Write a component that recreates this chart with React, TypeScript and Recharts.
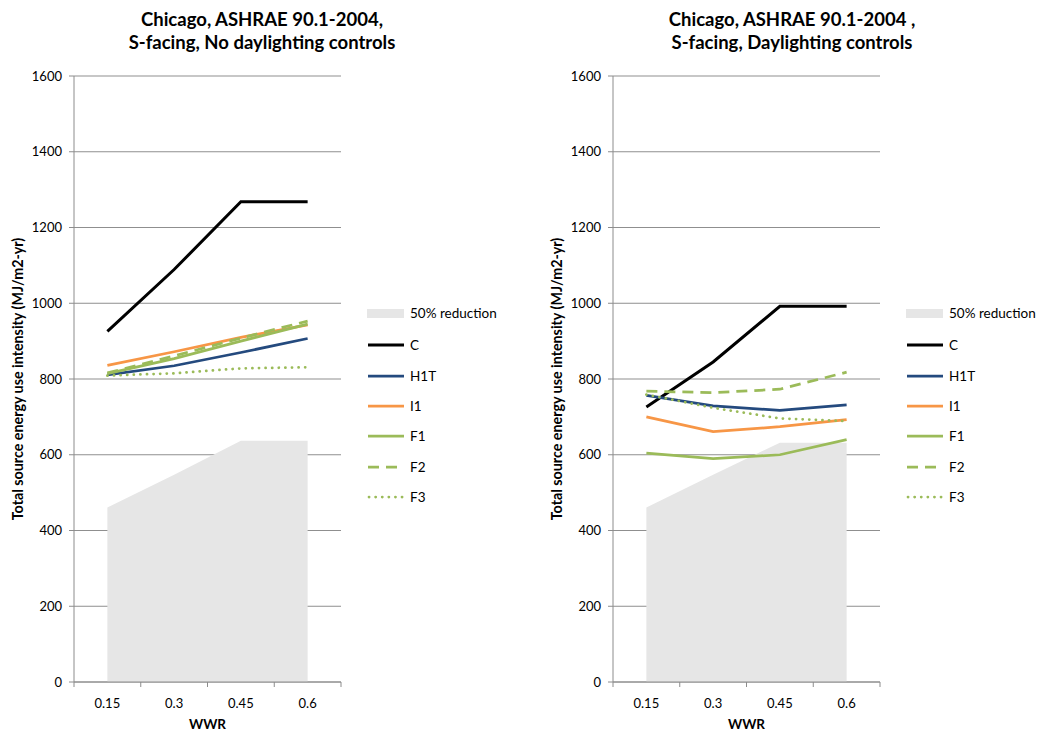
import { Area, CartesianGrid, ComposedChart, Legend, Line, XAxis, YAxis } from 'recharts'

const FONT = 'Lato, "Open Sans", sans-serif'

// window-to-wall ratios (categories)
const WWR = [0.15, 0.3, 0.45, 0.6]
const Y_TICKS = [0, 200, 400, 600, 800, 1000, 1200, 1400, 1600]

// left panel: no daylighting controls
const AREA_NO_DL = [461, 547, 637, 637]
const C_NO_DL = [926, 1089, 1268, 1268]
const H1T_NO_DL = [811, 835, 870, 907]
const I1_NO_DL = [836, 872, 910, 943]
const F1_NO_DL = [814, 854, 900, 945]
const F2_NO_DL = [816, 861, 908, 953]
const F3_NO_DL = [809, 815, 828, 831]

// right panel: daylighting controls
const AREA_DL = [461, 547, 632, 632]
const C_DL = [726, 845, 992, 992]
const H1T_DL = [757, 729, 717, 732]
const I1_DL = [700, 661, 674, 693]
const F1_DL = [604, 590, 600, 640]
const F2_DL = [768, 764, 773, 818]
const F3_DL = [759, 724, 696, 689]

const SERIES = [
  { key: 'C', color: '#000000', width: 3, dash: undefined as string | undefined },
  { key: 'H1T', color: '#244a7e', width: 2.75, dash: undefined },
  { key: 'I1', color: '#f79646', width: 2.75, dash: undefined },
  { key: 'F1', color: '#9bbb59', width: 2.75, dash: undefined },
  { key: 'F2', color: '#9bbb59', width: 2.75, dash: '11 7' },
  { key: 'F3', color: '#9bbb59', width: 2.75, dash: '0.1 6.5' },
]

const STEP = WWR[1] - WWR[0]
const BOUNDS = [WWR[0] - STEP / 2, ...WWR.map((v) => v + STEP / 2)]
const X_TICKS = [...BOUNDS, ...WWR].sort((a, b) => a - b)

function buildRows(area: number[], lines: Record<string, number[]>) {
  return WWR.map((x, i) => {
    const row: Record<string, number> = { x, area: area[i] }
    for (const k of Object.keys(lines)) row[k] = lines[k][i]
    return row
  })
}

const isDotted = (dash?: string) => !!dash && dash.startsWith('0.1')

const XTick = (props: any) => {
  const { x, y, payload } = props
  const v = payload.value
  if (WWR.includes(v)) {
    return (
      <text x={x} y={y + 21} textAnchor="middle" fontSize={13} fontFamily={FONT} fill="#000">
        {String(v)}
      </text>
    )
  }
  return <line x1={x} x2={x} y1={y - 5} y2={y} stroke="#8c8c8c" strokeWidth={1} />
}

const LegendBox = () => (
  <div style={{ fontFamily: FONT, fontSize: 13.5, color: '#000' }}>
    <div style={{ display: 'flex', alignItems: 'center', height: 20 }}>
      <div style={{ width: 37, height: 9, background: '#e6e6e6', marginRight: 6 }} />
      50% reduction
    </div>
    <div style={{ height: 7 }} />
    {SERIES.map((s) => (
      <div key={s.key} style={{ display: 'flex', alignItems: 'center', height: 30.4 }}>
        <svg width={40} height={10} style={{ marginRight: 3 }}>
          <line
            x1={isDotted(s.dash) ? 2 : 1}
            x2={37}
            y1={5}
            y2={5}
            stroke={s.color}
            strokeWidth={s.width}
            strokeDasharray={s.dash}
            strokeLinecap={isDotted(s.dash) ? 'round' : 'butt'}
          />
        </svg>
        {s.key}
      </div>
    ))}
  </div>
)

function Panel({ rows }: { rows: Record<string, number>[] }) {
  return (
    <ComposedChart width={539} height={736} data={rows} margin={{ top: 76, right: 198, bottom: 4, left: 0 }}>
      <CartesianGrid vertical={false} stroke="#8f8f8f" />
      <XAxis
        dataKey="x"
        type="number"
        domain={[BOUNDS[0], BOUNDS[BOUNDS.length - 1]]}
        ticks={X_TICKS}
        interval={0}
        tick={<XTick />}
        tickLine={false}
        tickSize={5}
        tickMargin={0}
        height={50}
        axisLine={{ stroke: '#8c8c8c' }}
        label={{
          content: ({ viewBox }: any) => (
            <text
              x={viewBox.x + viewBox.width / 2}
              y={viewBox.y + 47}
              textAnchor="middle"
              fontSize={13.5}
              fontWeight="bold"
              fontFamily={FONT}
            >
              WWR
            </text>
          ),
        }}
      />
      <YAxis
        domain={[0, 1600]}
        ticks={Y_TICKS}
        interval={0}
        width={74}
        tickSize={5}
        tickMargin={7}
        tick={{ fontSize: 13, fontFamily: FONT, fill: '#000' }}
        tickLine={{ stroke: '#8c8c8c' }}
        axisLine={{ stroke: '#8c8c8c' }}
        label={{
          content: ({ viewBox }: any) => {
            const cx = 23
            const cy = viewBox.y + viewBox.height / 2
            return (
              <text
                x={cx}
                y={cy}
                transform={`rotate(-90 ${cx} ${cy})`}
                textAnchor="middle"
                fontSize={14.3}
                fontWeight="bold"
                fontFamily={FONT}
              >
                Total source energy use intensity (MJ/m2-yr)
              </text>
            )
          },
        }}
      />
      <Area dataKey="area" name="50% reduction" fill="#e6e6e6" fillOpacity={1} stroke="none" isAnimationActive={false} />
      {SERIES.map((s) => (
        <Line
          key={s.key}
          dataKey={s.key}
          stroke={s.color}
          strokeWidth={s.width}
          strokeDasharray={s.dash}
          strokeLinecap={isDotted(s.dash) ? 'round' : 'butt'}
          dot={false}
          activeDot={false}
          isAnimationActive={false}
        />
      ))}
      <Legend
        layout="vertical"
        align="center"
        verticalAlign="middle"
        content={<LegendBox />}
        wrapperStyle={{ left: 367, top: 303, width: 160 }}
      />
    </ComposedChart>
  )
}

function Title({ lines, center }: { lines: string[]; center: number }) {
  return (
    <div
      style={{
        position: 'absolute',
        left: center - 200,
        top: 8,
        width: 400,
        textAlign: 'center',
        fontFamily: FONT,
        fontWeight: 'bold',
        fontSize: 18.5,
        lineHeight: '23px',
        color: '#000',
      }}
    >
      {lines.map((l) => (
        <div key={l}>{l}</div>
      ))}
    </div>
  )
}

export default function App() {
  const leftRows = buildRows(AREA_NO_DL, {
    C: C_NO_DL,
    H1T: H1T_NO_DL,
    I1: I1_NO_DL,
    F1: F1_NO_DL,
    F2: F2_NO_DL,
    F3: F3_NO_DL,
  })
  const rightRows = buildRows(AREA_DL, {
    C: C_DL,
    H1T: H1T_DL,
    I1: I1_DL,
    F1: F1_DL,
    F2: F2_DL,
    F3: F3_DL,
  })

  return (
    <div style={{ position: 'absolute', left: 0, top: 0, width: 1044, height: 736, background: '#fff' }}>
      <div style={{ position: 'absolute', left: 0, top: 0 }}>
        <Panel rows={leftRows} />
      </div>
      <div style={{ position: 'absolute', left: 539, top: 0 }}>
        <Panel rows={rightRows} />
      </div>
      <Title lines={['Chicago, ASHRAE 90.1-2004,', 'S-facing, No daylighting controls']} center={262} />
      <Title lines={['Chicago, ASHRAE 90.1-2004 ,', 'S-facing, Daylighting controls']} center={792} />
    </div>
  )
}
